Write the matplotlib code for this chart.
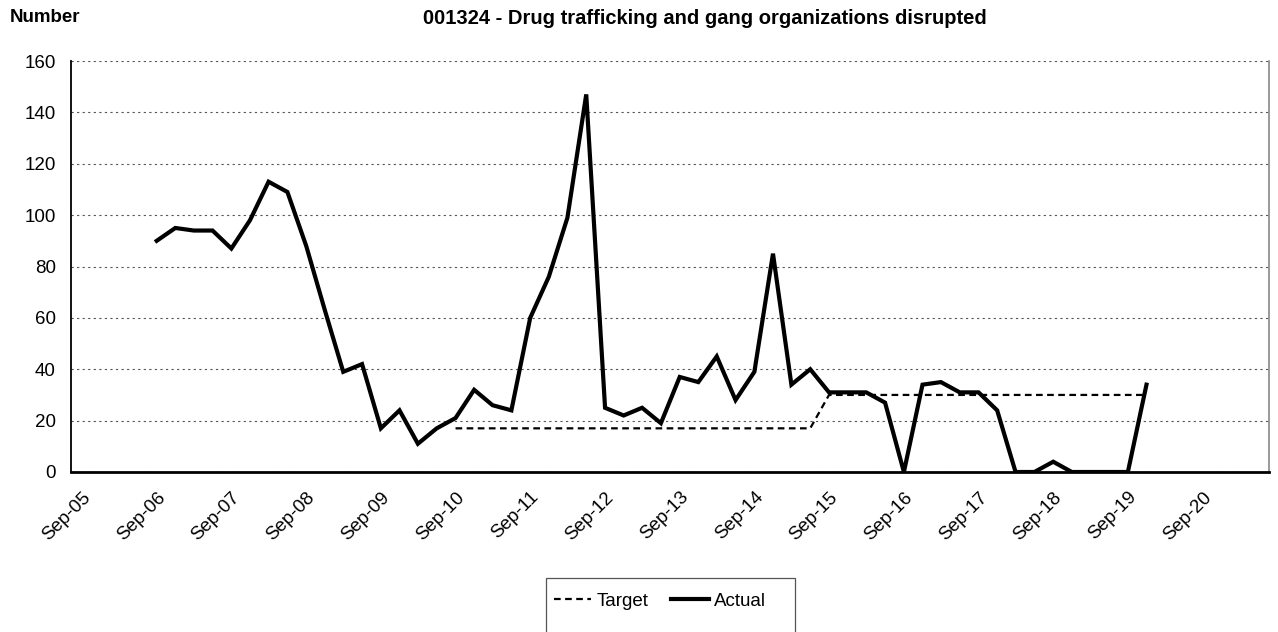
import numpy as np
import pandas as pd
import matplotlib
matplotlib.use("Agg")
import matplotlib.pyplot as plt
import matplotlib.dates as mdates
from matplotlib.lines import Line2D
from matplotlib.patches import Rectangle

plt.rcParams["font.family"] = ["Liberation Sans", "DejaVu Sans"]

# --- Data: quarterly values, Sep-06 .. Dec-19 ---
actual_dates = pd.date_range("2006-09-01", "2019-12-01", freq="3MS")
actual = [90, 95, 94, 94, 87, 98, 113, 109, 88, 63,
          39, 42, 17, 24, 11, 17, 21, 32, 26, 24,
          60, 76, 99, 147, 25, 22, 25, 19, 37, 35,
          45, 28, 39, 85, 34, 40, 31, 31, 31, 27,
          0, 34, 35, 31, 31, 24, 0, 0, 4, 0,
          0, 0, 0, 34]

target_dates = pd.date_range("2010-09-01", "2019-12-01", freq="3MS")
target = [17, 17, 17, 17, 17, 17, 17, 17, 17, 17,
          17, 17, 17, 17, 17, 17, 17, 17, 17, 17,
          30, 30, 30, 30, 30, 30, 30, 30, 30, 30,
          30, 30, 30, 30, 30, 30, 30, 30]

tick_dates = pd.date_range("2005-09-01", "2020-09-01", freq="12MS")
y_ticks = [0, 20, 40, 60, 80, 100, 120, 140, 160]

title = "001324 - Drug trafficking and gang organizations disrupted"
fs = 13.5

fig = plt.figure(figsize=(12.78, 6.32), dpi=100)
ax = fig.add_axes([71 / 1278, 1 - 472 / 632, (1269 - 71) / 1278, (472 - 61) / 632])

ax.plot(target_dates, target, color="black", lw=1.6, ls=(0, (3, 2)), label="Target")
ax.plot(actual_dates, actual, color="black", lw=3.0, solid_joinstyle="miter", label="Actual")

ax.set_ylim(0, 160)
ax.set_yticks(y_ticks)
ax.set_xlim(pd.Timestamp("2005-07-09"), pd.Timestamp("2021-07-22"))
ax.set_xticks(tick_dates)
ax.xaxis.set_major_formatter(mdates.DateFormatter("%b-%y"))

ax.grid(axis="y", color="#555555", lw=0.8, ls=(0, (2, 3)))
ax.set_axisbelow(True)
ax.tick_params(axis="both", length=0, labelsize=fs)
ax.tick_params(axis="y", pad=11)
ax.tick_params(axis="x", pad=12)
for lab in ax.get_xticklabels():
    lab.set_rotation(45)
    lab.set_rotation_mode("anchor")
    lab.set_ha("right")
    lab.set_va("top")

ax.spines["top"].set_visible(False)
ax.spines["left"].set_linewidth(1.3)
ax.spines["bottom"].set_linewidth(2.0)
ax.spines["right"].set_color("#888888")
ax.spines["right"].set_linewidth(1.2)

fig.text(10 / 1278, 1 - 18 / 632, "Number", fontsize=fs, fontweight="bold",
         ha="left", va="center")
fig.text(705 / 1278, 1 - 18 / 632, title, fontsize=14.5, fontweight="bold",
         ha="center", va="center")

# legend box (bottom cut off by figure edge)
fig.patches.append(Rectangle((546 / 1278, -0.05), 249 / 1278, 0.05 + 1 - 578 / 632,
                             transform=fig.transFigure, fill=False,
                             edgecolor="#555555", lw=0.9))
handles = [Line2D([], [], color="black", lw=1.6, ls=(0, (3, 2))),
           Line2D([], [], color="black", lw=3.0)]
fig.legend(handles, ["Target", "Actual"], loc="center",
           bbox_to_anchor=(660 / 1278, 1 - 601 / 632), ncol=2, frameon=False,
           fontsize=fs, handlelength=2.0, handletextpad=0.3, columnspacing=1.2)

fig.savefig("out.png", dpi=100)
